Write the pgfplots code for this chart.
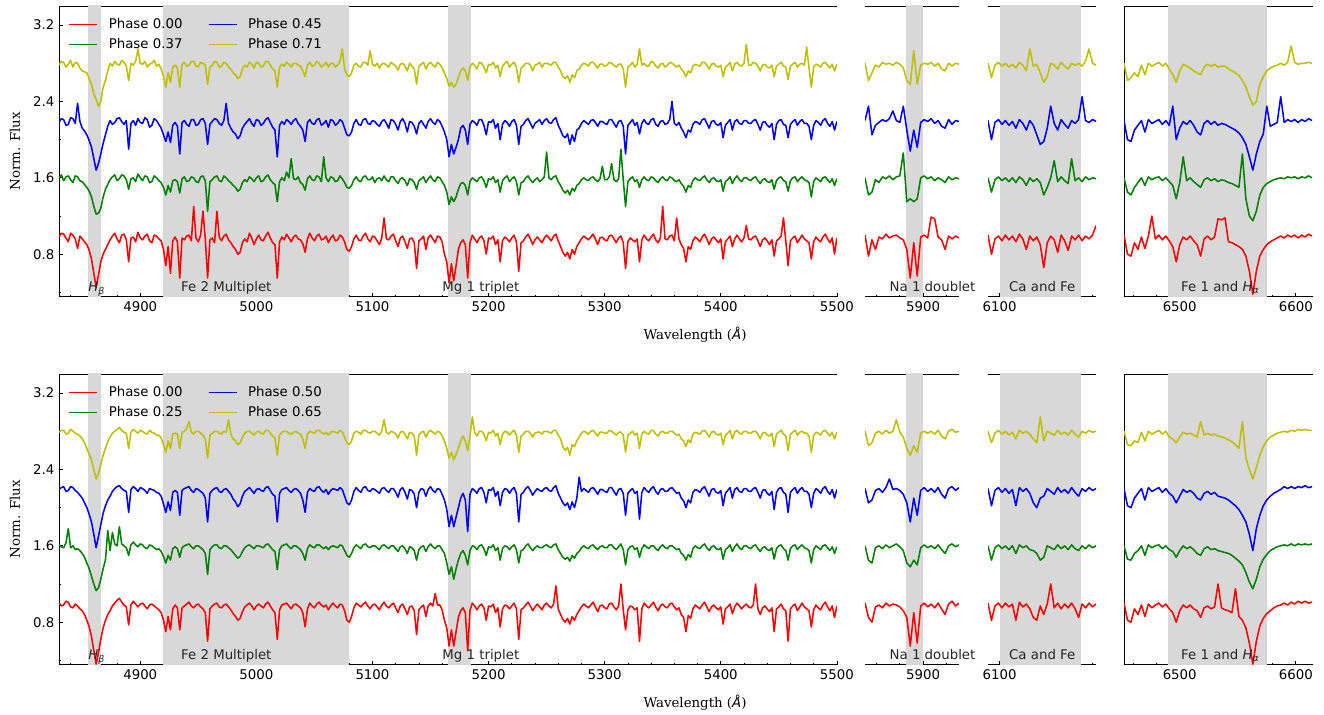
\documentclass[border=0pt]{standalone}
\usepackage{pgfplots}
\usepackage{pgfplotstable}
\pgfplotsset{compat=1.18}
\usepackage{fontspec}
\setmainfont{DejaVu Sans}
\newfontfamily\serif{DejaVu Serif}
\newcommand\fs{\fontsize{10}{12}\selectfont}
\definecolor{cR}{rgb}{1,0,0}
\definecolor{cG}{rgb}{0,0.5,0}
\definecolor{cB}{rgb}{0,0,1}
\definecolor{cY}{rgb}{0.75,0.75,0}
\definecolor{shade}{rgb}{0.847,0.847,0.847}
\definecolor{anncol}{rgb}{0.15,0.15,0.15}

% ---- top row: phases 0.00 (r), 0.37 (g), 0.45 (b), 0.71 (yl)
\pgfplotstableread{
lam r g b yl
4830 0.98 1.60 2.18 2.78
4832 1.02 1.63 2.22 2.82
4834 1.01 1.57 2.21 2.81
4836 0.97 1.61 2.15 2.76
4838 0.93 1.62 2.16 2.79
4840 1.02 1.58 2.23 2.83
4842 1.00 1.55 2.22 2.76
4844 0.96 1.62 2.17 2.81
4846 0.86 1.61 2.38 2.80
4848 0.99 1.57 2.19 2.75
4850 0.96 1.56 2.12 2.72
4852 0.93 1.53 2.09 2.71
4854 0.90 1.50 2.05 2.70
4856 0.84 1.46 1.99 2.64
4858 0.75 1.40 1.92 2.58
4860 0.60 1.30 1.80 2.48
4862 0.45 1.22 1.68 2.42
4864 0.58 1.23 1.75 2.35
4866 0.72 1.28 1.85 2.40
4868 0.80 1.40 1.96 2.55
4870 0.85 1.48 2.05 2.62
4872 0.90 1.53 2.14 2.72
4874 0.95 1.58 2.20 2.80
4876 0.99 1.61 2.16 2.77
4878 1.02 1.63 2.18 2.82
4880 0.96 1.57 2.22 2.79
4882 0.92 1.59 2.23 2.78
4884 1.00 1.63 2.19 2.83
4886 1.01 1.62 2.16 2.81
4888 0.95 1.58 2.20 2.77
4890 0.72 1.48 1.90 2.62
4892 0.97 1.59 2.17 2.80
4894 0.98 1.60 2.20 2.78
4896 0.93 1.56 2.15 2.82
4898 1.03 1.64 2.22 2.95
4900 0.97 1.60 2.18 2.80
4902 0.95 1.57 2.17 2.79
4904 0.99 1.62 2.23 2.82
4906 1.01 1.61 2.21 2.76
4908 0.94 1.55 2.13 2.79
4910 0.92 1.56 2.15 2.80
4912 1.00 1.62 2.22 2.83
4914 0.99 1.60 2.20 2.77
4916 0.96 1.57 2.16 2.79
4918 0.94 1.55 2.12 2.74
4920 0.85 1.50 2.05 2.66
4922 0.68 1.42 1.98 2.55
4924 0.88 1.52 2.08 2.70
4926 0.60 1.45 1.97 2.60
4928 0.94 1.57 2.15 2.76
4930 0.98 1.58 2.18 2.78
4932 0.93 1.56 2.14 2.75
4934 0.55 1.44 1.85 2.55
4936 0.97 1.59 2.18 2.79
4938 0.95 1.61 2.20 2.81
4940 0.99 1.56 2.16 2.77
4942 1.00 1.57 2.14 2.78
4944 0.94 1.61 2.21 2.82
4946 1.30 1.60 2.21 2.82
4948 0.97 1.56 2.15 2.77
4950 0.93 1.55 2.16 2.76
4952 1.00 1.61 2.21 2.81
4954 1.25 1.62 2.22 2.80
4956 0.96 1.57 2.17 2.78
4958 0.55 1.25 1.95 2.58
4960 0.95 1.56 2.16 2.76
4962 0.97 1.58 2.19 2.78
4964 0.92 1.61 2.22 2.82
4966 1.25 1.62 2.21 2.81
4968 0.98 1.57 2.17 2.76
4970 0.94 1.56 2.15 2.77
4972 0.99 1.62 2.20 2.81
4974 1.01 1.60 2.38 2.80
4976 0.95 1.57 2.17 2.76
4978 0.92 1.55 2.12 2.74
4980 0.88 1.52 2.08 2.70
4982 0.85 1.50 2.06 2.68
4984 0.80 1.46 2.01 2.64
4986 0.82 1.48 2.04 2.66
4988 0.92 1.55 2.12 2.74
4990 0.96 1.58 2.16 2.78
4992 0.93 1.56 2.19 2.76
4994 1.02 1.61 2.22 2.81
4996 0.97 1.59 2.17 2.79
4998 0.90 1.56 2.14 2.75
5000 0.96 1.60 2.21 2.81
5002 1.00 1.62 2.20 2.80
5004 0.95 1.56 2.15 2.76
5006 0.94 1.57 2.17 2.77
5008 0.99 1.61 2.21 2.82
5010 1.03 1.63 2.23 2.82
5012 0.97 1.58 2.18 2.78
5014 0.92 1.55 2.13 2.74
5016 0.90 1.53 2.10 2.72
5018 0.55 1.35 1.82 2.55
5020 0.93 1.56 2.15 2.76
5022 0.98 1.60 2.19 2.79
5024 0.95 1.57 2.16 2.77
5026 1.01 1.66 2.21 2.81
5028 0.97 1.60 2.19 2.79
5030 0.93 1.80 2.16 2.76
5032 0.98 1.59 2.20 2.80
5034 1.00 1.58 2.22 2.80
5036 0.96 1.61 2.17 2.78
5038 0.95 1.55 2.14 2.77
5040 0.91 1.53 2.10 2.72
5042 0.82 1.47 1.98 2.66
5044 0.96 1.59 2.18 2.78
5046 1.02 1.62 2.21 2.81
5048 0.97 1.58 2.17 2.77
5050 0.94 1.57 2.16 2.78
5052 0.99 1.62 2.21 2.82
5054 1.01 1.61 2.22 2.80
5056 0.95 1.56 2.15 2.76
5058 0.96 1.82 2.17 2.78
5060 0.99 1.60 2.20 2.81
5062 0.92 1.56 2.13 2.76
5064 0.97 1.61 2.21 2.80
5066 1.00 1.60 2.20 2.80
5068 0.94 1.56 2.15 2.76
5070 0.95 1.57 2.17 2.78
5072 1.00 1.62 2.21 2.82
5074 0.98 1.59 2.19 2.95
5076 0.93 1.55 2.12 2.74
5078 0.85 1.50 2.05 2.68
5080 0.83 1.49 2.04 2.66
5082 0.88 1.52 2.08 2.70
5084 0.96 1.58 2.17 2.78
5086 1.00 1.61 2.21 2.80
5088 0.95 1.57 2.16 2.77
5090 0.94 1.56 2.15 2.76
5092 0.99 1.61 2.21 2.81
5094 1.02 1.62 2.22 2.81
5096 0.96 1.58 2.17 2.78
5098 0.93 1.58 2.16 2.93
5100 0.99 1.61 2.20 2.79
5102 0.98 1.55 2.19 2.77
5104 0.94 1.59 2.16 2.80
5106 0.90 1.60 2.14 2.75
5108 0.97 1.57 2.19 2.79
5110 1.18 1.62 2.21 2.80
5112 0.96 1.58 2.17 2.78
5114 0.95 1.56 2.12 2.76
5116 0.99 1.61 2.21 2.81
5118 1.01 1.61 2.20 2.79
5120 0.94 1.57 2.16 2.77
5122 0.88 1.54 2.10 2.73
5124 0.97 1.59 2.19 2.79
5126 0.99 1.60 2.22 2.80
5128 0.93 1.57 2.17 2.77
5130 0.86 1.52 2.08 2.72
5132 0.96 1.59 2.19 2.80
5134 0.97 1.58 2.18 2.77
5136 0.92 1.55 2.14 2.74
5138 0.65 1.48 2.06 2.58
5140 0.94 1.57 2.17 2.77
5142 0.96 1.59 2.20 2.79
5144 0.99 1.61 2.16 2.81
5146 0.85 1.55 2.12 2.74
5148 0.97 1.59 2.19 2.79
5150 1.00 1.62 2.22 2.81
5152 0.96 1.58 2.18 2.78
5154 0.92 1.56 2.16 2.76
5156 0.99 1.61 2.21 2.81
5158 0.98 1.60 2.19 2.79
5160 0.93 1.56 2.14 2.75
5162 0.80 1.52 2.08 2.70
5164 0.72 1.45 2.00 2.64
5166 0.50 1.32 1.82 2.56
5168 0.70 1.40 1.95 2.60
5170 0.52 1.35 1.85 2.55
5172 0.68 1.40 1.92 2.58
5174 0.85 1.48 2.00 2.65
5176 0.92 1.54 2.12 2.72
5178 0.95 1.55 2.15 2.75
5180 0.90 1.52 2.10 2.72
5182 0.55 1.42 1.95 2.62
5184 0.92 1.56 2.16 2.76
5186 1.00 1.60 2.20 2.80
5188 0.96 1.58 2.18 2.78
5190 0.92 1.56 2.15 2.74
5192 0.97 1.60 2.21 2.81
5194 0.99 1.61 2.21 2.80
5196 0.94 1.57 2.15 2.76
5198 0.80 1.50 2.05 2.70
5200 0.97 1.59 2.19 2.79
5202 0.96 1.58 2.18 2.78
5204 0.99 1.61 2.21 2.81
5206 0.90 1.55 2.12 2.75
5208 0.95 1.58 2.17 2.78
5210 0.72 1.45 2.00 2.66
5212 0.94 1.57 2.16 2.77
5214 0.98 1.60 2.20 2.80
5216 0.96 1.62 2.18 2.82
5218 0.93 1.56 2.14 2.76
5220 0.97 1.59 2.19 2.79
5222 1.00 1.61 2.21 2.81
5224 0.93 1.56 2.15 2.76
5226 0.62 1.42 1.95 2.60
5228 0.92 1.55 2.14 2.75
5230 0.94 1.56 2.16 2.77
5232 0.98 1.60 2.20 2.80
5234 1.01 1.62 2.22 2.80
5236 0.96 1.58 2.17 2.78
5238 0.90 1.55 2.12 2.72
5240 0.95 1.58 2.17 2.78
5242 0.98 1.60 2.19 2.79
5244 0.95 1.56 2.21 2.81
5246 0.92 1.58 2.16 2.76
5248 0.97 1.61 2.20 2.80
5250 1.00 1.87 2.22 2.80
5252 0.97 1.60 2.18 2.79
5254 0.94 1.58 2.17 2.78
5256 0.99 1.61 2.21 2.81
5258 1.01 1.62 2.23 2.81
5260 0.94 1.56 2.15 2.76
5262 0.88 1.52 2.10 2.72
5264 0.82 1.47 2.04 2.66
5266 0.78 1.44 2.02 2.64
5268 0.82 1.47 2.06 2.67
5270 0.75 1.42 1.95 2.60
5272 0.85 1.49 2.05 2.68
5274 0.80 1.46 1.98 2.65
5276 0.88 1.52 2.10 2.72
5278 0.92 1.54 2.12 2.74
5280 0.96 1.58 2.17 2.78
5282 0.99 1.60 2.20 2.80
5284 0.97 1.58 2.18 2.79
5286 0.95 1.57 2.16 2.77
5288 0.98 1.60 2.20 2.81
5290 1.01 1.61 2.21 2.81
5292 0.96 1.58 2.18 2.78
5294 0.90 1.56 2.14 2.75
5296 0.97 1.59 2.19 2.79
5298 0.98 1.72 2.19 2.79
5300 0.95 1.58 2.17 2.77
5302 0.94 1.58 2.16 2.78
5304 0.99 1.61 2.21 2.81
5306 1.00 1.75 2.21 2.80
5308 0.96 1.58 2.17 2.78
5310 0.92 1.56 2.13 2.76
5312 0.97 1.59 2.19 2.79
5314 0.99 1.90 2.20 2.79
5316 0.92 1.58 2.14 2.74
5318 0.65 1.30 1.85 2.55
5320 0.93 1.56 2.15 2.76
5322 0.97 1.59 2.18 2.78
5324 0.95 1.61 2.21 2.81
5326 0.93 1.56 2.15 2.76
5328 0.96 1.58 2.18 2.79
5330 0.72 1.50 2.06 2.95
5332 0.95 1.58 2.17 2.78
5334 1.00 1.61 2.21 2.80
5336 0.96 1.58 2.17 2.77
5338 0.94 1.57 2.16 2.77
5340 0.98 1.61 2.21 2.82
5342 1.01 1.60 2.22 2.81
5344 0.95 1.57 2.16 2.77
5346 0.92 1.55 2.14 2.75
5348 0.97 1.59 2.19 2.79
5350 1.30 1.61 2.20 2.80
5352 0.96 1.58 2.16 2.76
5354 0.95 1.57 2.17 2.78
5356 0.99 1.61 2.21 2.81
5358 1.00 1.60 2.40 2.80
5360 0.94 1.57 2.17 2.78
5362 1.18 1.56 2.15 2.76
5364 0.96 1.58 2.18 2.78
5366 0.90 1.54 2.12 2.74
5368 0.86 1.51 2.08 2.71
5370 0.72 1.45 2.02 2.66
5372 0.88 1.52 2.10 2.72
5374 0.85 1.50 2.08 2.70
5376 0.94 1.57 2.16 2.77
5378 0.98 1.60 2.19 2.79
5380 0.96 1.58 2.18 2.78
5382 0.93 1.57 2.16 2.77
5384 0.98 1.60 2.21 2.81
5386 1.01 1.62 2.22 2.81
5388 0.96 1.58 2.17 2.78
5390 0.90 1.55 2.12 2.74
5392 0.96 1.59 2.19 2.79
5394 0.98 1.60 2.20 2.80
5396 0.95 1.57 2.16 2.77
5398 0.92 1.56 2.15 2.76
5400 0.96 1.58 2.18 2.78
5402 0.75 1.46 2.02 2.66
5404 0.93 1.56 2.15 2.76
5406 0.96 1.58 2.18 2.78
5408 0.99 1.61 2.21 2.81
5410 0.88 1.54 2.10 2.72
5412 0.96 1.59 2.19 2.79
5414 1.00 1.62 2.21 2.81
5416 0.96 1.58 2.17 2.78
5418 0.93 1.56 2.16 2.77
5420 0.97 1.60 2.20 2.80
5422 1.10 1.60 2.20 3.00
5424 0.96 1.58 2.17 2.78
5426 0.95 1.57 2.17 2.78
5428 0.98 1.60 2.20 2.81
5430 0.99 1.61 2.21 2.80
5432 0.94 1.57 2.16 2.77
5434 0.88 1.54 2.10 2.72
5436 0.95 1.58 2.18 2.78
5438 0.97 1.59 2.19 2.79
5440 0.94 1.56 2.15 2.76
5442 0.90 1.55 2.13 2.75
5444 0.95 1.58 2.17 2.78
5446 0.78 1.48 2.00 2.66
5448 0.94 1.57 2.16 2.77
5450 0.96 1.60 2.20 2.79
5452 0.99 1.61 2.21 2.81
5454 1.18 1.57 2.16 2.77
5456 0.94 1.56 2.15 2.76
5458 0.68 1.46 2.02 2.63
5460 0.94 1.57 2.16 2.77
5462 0.97 1.60 2.19 2.79
5464 0.99 1.61 2.21 2.81
5466 0.92 1.56 2.15 2.76
5468 0.96 1.59 2.19 2.79
5470 1.00 1.61 2.21 2.80
5472 0.96 1.58 2.17 2.78
5474 0.94 1.57 2.17 2.97
5476 0.92 1.55 2.14 2.75
5478 0.75 1.40 2.00 2.55
5480 0.93 1.56 2.15 2.76
5482 0.98 1.60 2.20 2.79
5484 0.95 1.58 2.18 2.78
5486 0.93 1.56 2.15 2.76
5488 0.98 1.60 2.20 2.80
5490 1.01 1.61 2.22 2.81
5492 0.96 1.58 2.17 2.78
5494 0.92 1.55 2.14 2.75
5496 0.97 1.59 2.19 2.79
5498 0.80 1.52 2.10 2.72
5500 0.97 1.59 2.19 2.79
}\TopA
\pgfplotstableread{
lam r g b yl
5850 1.00 1.60 2.20 2.80
5853 0.78 1.42 2.35 2.62
5856 0.95 1.45 2.05 2.70
5859 0.85 1.58 2.15 2.78
5862 0.98 1.55 2.18 2.76
5865 0.96 1.61 2.21 2.81
5868 1.01 1.59 2.19 2.79
5871 0.97 1.62 2.22 2.80
5874 0.99 1.58 2.30 2.78
5877 1.00 1.61 2.20 2.81
5880 0.97 1.62 2.18 2.79
5883 0.95 1.86 2.35 2.75
5886 0.85 1.35 2.10 2.62
5889 0.55 1.38 1.88 2.58
5892 0.92 1.35 2.10 2.93
5895 0.57 1.38 1.92 2.58
5898 0.98 1.60 2.18 2.78
5901 1.00 1.62 2.21 2.80
5904 0.97 1.59 2.19 2.79
5907 1.19 1.61 2.22 2.81
5910 1.17 1.57 2.17 2.77
5913 0.98 1.60 2.20 2.80
5916 0.95 1.58 2.14 2.74
5919 0.85 1.55 2.12 2.72
5922 0.99 1.61 2.21 2.80
5925 0.96 1.58 2.16 2.77
5928 0.99 1.60 2.20 2.80
5931 0.97 1.59 2.19 2.79
}\TopB
\pgfplotstableread{
lam r g b yl
6090 1.00 1.60 2.20 2.80
6093 0.80 1.45 2.00 2.65
6096 0.96 1.58 2.18 2.78
6099 0.99 1.61 2.21 2.81
6102 0.94 1.57 2.16 2.77
6105 1.00 1.60 2.20 2.80
6108 0.95 1.56 2.15 2.76
6111 0.99 1.60 2.19 2.79
6114 0.93 1.55 2.12 2.75
6117 1.01 1.61 2.21 2.81
6120 0.96 1.58 2.17 2.78
6123 0.85 1.52 2.10 2.72
6126 0.99 1.60 2.20 2.95
6129 0.94 1.56 2.15 2.77
6132 0.98 1.59 2.05 2.79
6135 0.90 1.55 1.95 2.70
6138 0.66 1.42 1.98 2.60
6141 0.92 1.50 2.12 2.66
6144 0.99 1.60 2.35 2.80
6147 0.95 1.78 2.17 2.78
6150 0.82 1.56 2.10 2.74
6153 1.00 1.61 2.21 2.81
6156 0.94 1.57 2.16 2.77
6159 0.84 1.54 2.12 2.74
6162 0.99 1.80 2.20 2.80
6165 0.95 1.57 2.17 2.78
6168 1.00 1.60 2.21 2.80
6171 0.94 1.56 2.45 2.77
6174 0.99 1.61 2.20 2.82
6177 0.96 1.58 2.18 2.95
6180 1.00 1.60 2.21 2.80
6183 1.10 1.59 2.19 2.78
}\TopC
\pgfplotstableread{
lam r g b yl
6452 1.00 1.60 2.20 2.80
6455 0.80 1.45 2.00 2.62
6458 0.78 1.42 1.98 2.65
6461 0.92 1.50 2.10 2.70
6464 0.85 1.55 2.15 2.66
6467 0.98 1.60 2.20 2.78
6470 0.86 1.52 2.08 2.68
6473 0.99 1.61 2.21 2.80
6476 1.20 1.58 2.17 2.77
6479 0.96 1.60 2.19 2.79
6482 1.00 1.61 2.21 2.81
6485 0.95 1.57 2.16 2.77
6488 0.99 1.60 2.20 2.80
6491 0.94 1.56 2.15 2.74
6494 0.88 1.52 2.35 2.68
6497 0.72 1.38 2.00 2.60
6500 0.90 1.55 2.12 2.72
6503 0.98 1.82 2.19 2.79
6506 0.95 1.57 2.16 2.77
6509 0.99 1.60 2.20 2.75
6512 0.94 1.56 2.15 2.72
6515 0.90 1.53 2.08 2.70
6518 0.78 1.50 2.05 2.68
6521 0.96 1.58 2.17 2.76
6524 0.99 1.60 2.20 2.79
6527 0.95 1.57 2.16 2.77
6530 0.98 1.59 2.19 2.79
6533 1.17 1.56 2.15 2.76
6536 1.16 1.58 2.17 2.77
6539 1.18 1.57 2.16 2.77
6542 0.93 1.55 2.14 2.74
6545 0.92 1.54 2.12 2.72
6548 0.90 1.52 2.10 2.70
6551 0.88 1.50 2.07 2.67
6554 0.85 1.85 2.02 2.62
6557 0.78 1.38 1.95 2.55
6560 0.62 1.20 1.82 2.45
6563 0.38 1.15 1.68 2.36
6566 0.62 1.25 1.85 2.40
6569 0.78 1.42 1.98 2.58
6572 0.85 1.50 2.06 2.66
6575 0.90 1.54 2.35 2.72
6578 0.93 1.56 2.14 2.75
6581 0.95 1.58 2.16 2.77
6584 0.97 1.59 2.18 2.78
6587 0.99 1.60 2.45 2.80
6590 0.97 1.59 2.18 2.78
6593 1.00 1.61 2.21 2.81
6596 0.98 1.60 2.19 2.98
6599 1.00 1.61 2.21 2.81
6602 0.97 1.59 2.18 2.79
6605 1.00 1.61 2.21 2.80
6608 0.98 1.60 2.19 2.80
6611 1.01 1.62 2.22 2.81
6614 0.99 1.60 2.20 2.80
}\TopD

% ---- bottom row: phases 0.00 (r), 0.25 (g), 0.50 (b), 0.65 (yl)
\pgfplotstableread{
lam r g b yl
4830 1.00 1.61 2.19 2.79
4832 0.97 1.59 2.21 2.81
4834 0.98 1.58 2.22 2.81
4836 1.02 1.63 2.17 2.77
4838 1.01 1.78 2.18 2.78
4840 0.96 1.58 2.22 2.82
4842 0.95 1.60 2.21 2.80
4844 0.99 1.56 2.18 2.78
4846 0.97 1.57 2.16 2.77
4848 0.94 1.55 2.13 2.75
4850 0.92 1.52 2.10 2.72
4852 0.88 1.48 2.05 2.68
4854 0.82 1.42 2.00 2.62
4856 0.75 1.36 1.93 2.56
4858 0.65 1.28 1.85 2.50
4860 0.50 1.20 1.72 2.40
4862 0.36 1.13 1.58 2.30
4864 0.48 1.16 1.70 2.36
4866 0.62 1.25 1.82 2.45
4868 0.74 1.36 1.94 2.55
4870 0.82 1.45 2.02 2.62
4872 0.88 1.76 2.08 2.69
4874 0.92 1.55 2.12 2.74
4876 0.97 1.74 2.17 2.78
4878 1.00 1.62 2.20 2.80
4880 1.03 1.60 2.22 2.82
4882 1.05 1.80 2.23 2.84
4884 1.01 1.62 2.20 2.81
4886 0.98 1.60 2.18 2.79
4888 0.96 1.58 2.17 2.78
4890 0.77 1.50 1.95 2.62
4892 0.98 1.61 2.19 2.79
4894 1.02 1.64 2.22 2.82
4896 0.99 1.61 2.20 2.80
4898 0.96 1.59 2.17 2.78
4900 0.99 1.62 2.21 2.81
4902 1.00 1.61 2.20 2.80
4904 0.97 1.58 2.18 2.78
4906 0.94 1.57 2.15 2.77
4908 0.98 1.61 2.20 2.81
4910 0.99 1.60 2.19 2.79
4912 0.97 1.58 2.18 2.78
4914 0.95 1.56 2.16 2.76
4916 0.93 1.57 2.15 2.76
4918 0.90 1.54 2.12 2.73
4920 0.82 1.49 2.04 2.66
4922 0.70 1.42 1.95 2.58
4924 0.86 1.50 2.06 2.70
4926 0.72 1.45 1.97 2.62
4928 0.94 1.57 2.16 2.77
4930 0.98 1.59 2.18 2.78
4932 0.95 1.57 2.16 2.77
4934 0.72 1.48 1.92 2.62
4936 0.95 1.58 2.18 2.79
4938 0.97 1.60 2.20 2.80
4940 0.99 1.61 2.21 2.83
4942 1.01 1.62 2.22 2.90
4944 0.97 1.59 2.18 2.79
4946 0.95 1.57 2.16 2.77
4948 0.98 1.60 2.20 2.80
4950 0.99 1.60 2.19 2.80
4952 0.96 1.58 2.17 2.78
4954 0.94 1.56 2.15 2.76
4956 0.90 1.52 2.10 2.72
4958 0.60 1.30 1.85 2.52
4960 0.94 1.56 2.15 2.76
4962 0.97 1.59 2.18 2.78
4964 0.99 1.61 2.20 2.80
4966 1.00 1.61 2.21 2.80
4968 0.96 1.58 2.17 2.78
4970 0.95 1.57 2.16 2.77
4972 0.98 1.60 2.19 2.80
4974 0.99 1.60 2.20 2.79
4976 0.96 1.58 2.17 2.92
4978 0.93 1.56 2.14 2.77
4980 0.89 1.53 2.09 2.72
4982 0.86 1.50 2.06 2.70
4984 0.82 1.47 2.01 2.66
4986 0.84 1.49 2.04 2.68
4988 0.91 1.54 2.12 2.74
4990 0.96 1.58 2.17 2.78
4992 0.98 1.60 2.19 2.80
4994 1.00 1.61 2.21 2.80
4996 0.97 1.59 2.18 2.78
4998 0.93 1.57 2.15 2.76
5000 0.97 1.60 2.19 2.79
5002 0.99 1.60 2.20 2.80
5004 0.97 1.59 2.18 2.78
5006 0.95 1.58 2.17 2.77
5008 0.99 1.61 2.21 2.81
5010 1.01 1.62 2.22 2.81
5012 0.97 1.59 2.18 2.78
5014 0.93 1.56 2.14 2.75
5016 0.90 1.54 2.12 2.73
5018 0.62 1.35 1.85 2.55
5020 0.93 1.56 2.15 2.76
5022 0.98 1.60 2.19 2.79
5024 0.99 1.61 2.20 2.80
5026 1.00 1.62 2.21 2.80
5028 0.97 1.59 2.18 2.78
5030 0.94 1.57 2.16 2.77
5032 0.98 1.60 2.19 2.79
5034 0.99 1.60 2.20 2.80
5036 0.97 1.58 2.18 2.78
5038 0.95 1.56 2.15 2.77
5040 0.90 1.52 2.08 2.72
5042 0.75 1.45 1.95 2.62
5044 0.94 1.57 2.16 2.77
5046 1.00 1.61 2.20 2.80
5048 0.97 1.59 2.18 2.79
5050 0.95 1.58 2.17 2.78
5052 0.99 1.61 2.21 2.81
5054 1.01 1.61 2.22 2.81
5056 0.98 1.59 2.18 2.79
5058 0.96 1.57 2.16 2.77
5060 0.98 1.59 2.19 2.79
5062 0.93 1.56 2.14 2.76
5064 0.97 1.59 2.18 2.79
5066 1.00 1.60 2.20 2.80
5068 0.97 1.59 2.19 2.79
5070 0.95 1.58 2.18 2.78
5072 0.99 1.61 2.21 2.81
5074 0.98 1.60 2.19 2.79
5076 0.92 1.55 2.12 2.74
5078 0.82 1.50 2.05 2.68
5080 0.80 1.48 2.03 2.66
5082 0.86 1.52 2.08 2.70
5084 0.95 1.58 2.17 2.78
5086 1.00 1.61 2.21 2.80
5088 0.98 1.59 2.18 2.79
5090 0.96 1.57 2.16 2.77
5092 0.99 1.61 2.21 2.81
5094 1.01 1.62 2.22 2.81
5096 0.97 1.59 2.18 2.79
5098 0.94 1.58 2.17 2.78
5100 0.98 1.60 2.20 2.80
5102 0.99 1.60 2.19 2.80
5104 0.96 1.58 2.17 2.78
5106 0.93 1.56 2.15 2.76
5108 0.98 1.60 2.20 2.80
5110 1.01 1.61 2.21 2.92
5112 0.97 1.59 2.18 2.79
5114 0.95 1.57 2.16 2.77
5116 0.98 1.60 2.20 2.80
5118 1.00 1.60 2.20 2.79
5120 0.95 1.57 2.16 2.77
5122 0.90 1.54 2.11 2.73
5124 0.97 1.59 2.19 2.79
5126 0.99 1.60 2.21 2.80
5128 0.94 1.57 2.16 2.77
5130 0.88 1.52 2.09 2.72
5132 0.96 1.59 2.19 2.79
5134 0.97 1.58 2.18 2.78
5136 0.92 1.55 2.14 2.75
5138 0.67 1.45 2.00 2.55
5140 0.93 1.56 2.16 2.76
5142 0.96 1.59 2.20 2.79
5144 0.98 1.60 2.19 2.80
5146 0.86 1.54 2.12 2.74
5148 0.97 1.59 2.19 2.79
5150 1.00 1.62 2.22 2.81
5152 0.97 1.59 2.18 2.79
5154 1.10 1.57 2.16 2.77
5156 0.98 1.60 2.20 2.80
5158 0.98 1.60 2.19 2.79
5160 0.93 1.56 2.14 2.75
5162 0.82 1.52 2.08 2.70
5164 0.74 1.42 1.98 2.62
5166 0.55 1.30 1.80 2.52
5168 0.72 1.38 1.92 2.58
5170 0.55 1.25 1.80 2.50
5172 0.70 1.36 1.90 2.56
5174 0.85 1.45 2.00 2.62
5176 0.92 1.52 2.10 2.70
5178 0.95 1.55 2.15 2.75
5180 0.90 1.50 2.08 2.70
5182 0.50 1.40 1.75 2.60
5184 0.92 1.55 2.14 2.75
5186 1.00 1.60 2.20 2.95
5188 0.97 1.59 2.18 2.79
5190 0.93 1.56 2.15 2.75
5192 0.97 1.60 2.20 2.80
5194 0.99 1.61 2.21 2.80
5196 0.95 1.57 2.16 2.77
5198 0.82 1.50 2.05 2.70
5200 0.97 1.59 2.19 2.79
5202 0.96 1.58 2.18 2.78
5204 0.99 1.61 2.21 2.81
5206 0.90 1.55 2.12 2.75
5208 0.95 1.58 2.17 2.78
5210 0.75 1.45 2.02 2.66
5212 0.94 1.57 2.16 2.77
5214 0.98 1.60 2.20 2.80
5216 0.97 1.59 2.19 2.79
5218 0.94 1.56 2.15 2.76
5220 0.97 1.59 2.19 2.79
5222 1.00 1.61 2.21 2.81
5224 0.94 1.56 2.15 2.76
5226 0.62 1.42 1.85 2.58
5228 0.93 1.55 2.14 2.75
5230 0.95 1.56 2.16 2.77
5232 0.98 1.60 2.20 2.80
5234 1.01 1.62 2.22 2.80
5236 0.97 1.58 2.18 2.78
5238 0.92 1.55 2.13 2.74
5240 0.96 1.58 2.17 2.78
5242 0.99 1.60 2.20 2.79
5244 0.96 1.58 2.18 2.79
5246 0.93 1.58 2.17 2.77
5248 0.98 1.60 2.20 2.80
5250 1.00 1.61 2.21 2.80
5252 0.97 1.59 2.18 2.79
5254 0.95 1.58 2.17 2.78
5256 0.99 1.61 2.21 2.81
5258 1.18 1.62 2.23 2.81
5260 0.94 1.56 2.15 2.76
5262 0.88 1.52 2.10 2.72
5264 0.83 1.48 2.05 2.64
5266 0.80 1.46 2.02 2.60
5268 0.84 1.48 2.05 2.63
5270 0.78 1.44 1.98 2.55
5272 0.86 1.50 2.06 2.66
5274 0.82 1.47 2.00 2.64
5276 0.88 1.52 2.10 2.70
5278 0.92 1.54 2.32 2.74
5280 0.96 1.58 2.17 2.78
5282 0.99 1.60 2.20 2.80
5284 0.97 1.58 2.18 2.79
5286 0.95 1.57 2.16 2.77
5288 0.98 1.60 2.20 2.80
5290 1.01 1.61 2.21 2.81
5292 0.96 1.58 2.18 2.78
5294 0.91 1.56 2.14 2.75
5296 0.97 1.59 2.19 2.79
5298 0.98 1.60 2.19 2.79
5300 0.95 1.58 2.17 2.78
5302 0.94 1.58 2.16 2.78
5304 0.99 1.61 2.21 2.81
5306 1.00 1.61 2.21 2.80
5308 0.96 1.58 2.17 2.78
5310 0.93 1.56 2.13 2.76
5312 0.97 1.59 2.19 2.79
5314 1.20 1.62 2.20 2.79
5316 0.93 1.56 2.15 2.76
5318 0.72 1.40 1.92 2.58
5320 0.93 1.56 2.15 2.76
5322 0.97 1.59 2.18 2.78
5324 0.96 1.60 2.20 2.80
5326 0.93 1.56 2.15 2.76
5328 0.95 1.58 2.17 2.78
5330 0.60 1.48 1.88 2.62
5332 0.94 1.57 2.16 2.77
5334 1.00 1.61 2.21 2.80
5336 0.97 1.59 2.18 2.78
5338 0.95 1.57 2.16 2.77
5340 0.98 1.60 2.20 2.81
5342 1.01 1.60 2.22 2.81
5344 0.96 1.57 2.17 2.77
5346 0.92 1.55 2.14 2.75
5348 0.97 1.59 2.19 2.79
5350 0.99 1.61 2.20 2.80
5352 0.96 1.58 2.17 2.78
5354 0.95 1.57 2.17 2.78
5356 0.99 1.60 2.20 2.80
5358 1.00 1.60 2.21 2.80
5360 0.96 1.58 2.18 2.78
5362 0.93 1.56 2.15 2.76
5364 0.95 1.57 2.16 2.77
5366 0.88 1.52 2.10 2.72
5368 0.85 1.50 2.07 2.70
5370 0.70 1.45 2.00 2.64
5372 0.87 1.51 2.08 2.71
5374 0.84 1.48 2.05 2.68
5376 0.94 1.57 2.16 2.77
5378 0.98 1.60 2.19 2.79
5380 0.96 1.58 2.18 2.78
5382 0.94 1.57 2.16 2.77
5384 0.98 1.60 2.20 2.80
5386 1.01 1.62 2.22 2.81
5388 0.96 1.58 2.17 2.78
5390 0.91 1.55 2.12 2.74
5392 0.96 1.59 2.19 2.79
5394 0.98 1.60 2.20 2.80
5396 0.95 1.57 2.16 2.77
5398 0.93 1.56 2.15 2.76
5400 0.96 1.58 2.18 2.78
5402 0.78 1.46 2.02 2.66
5404 0.94 1.56 2.15 2.76
5406 0.96 1.58 2.18 2.78
5408 0.99 1.61 2.21 2.81
5410 0.89 1.54 2.10 2.72
5412 0.96 1.59 2.19 2.79
5414 1.00 1.62 2.21 2.81
5416 0.97 1.58 2.17 2.78
5418 0.94 1.56 2.16 2.77
5420 0.97 1.60 2.20 2.80
5422 0.99 1.60 2.20 2.80
5424 0.96 1.58 2.17 2.78
5426 0.95 1.57 2.17 2.78
5428 0.98 1.60 2.20 2.80
5430 1.20 1.61 2.21 2.80
5432 0.94 1.57 2.16 2.77
5434 0.88 1.54 2.10 2.72
5436 0.95 1.58 2.18 2.78
5438 0.97 1.59 2.19 2.79
5440 0.94 1.56 2.15 2.76
5442 0.91 1.55 2.13 2.75
5444 0.95 1.58 2.17 2.78
5446 0.70 1.46 1.98 2.64
5448 0.94 1.57 2.16 2.77
5450 0.96 1.60 2.20 2.79
5452 0.99 1.61 2.21 2.81
5454 0.94 1.57 2.16 2.77
5456 0.92 1.55 2.14 2.75
5458 0.60 1.45 1.95 2.60
5460 0.94 1.57 2.16 2.77
5462 0.97 1.60 2.19 2.79
5464 0.99 1.61 2.21 2.81
5466 0.92 1.56 2.15 2.76
5468 0.96 1.59 2.19 2.79
5470 1.00 1.61 2.21 2.80
5472 0.96 1.58 2.17 2.78
5474 0.94 1.57 2.17 2.78
5476 0.92 1.55 2.14 2.75
5478 0.75 1.42 2.00 2.58
5480 0.93 1.56 2.15 2.76
5482 0.98 1.60 2.20 2.79
5484 0.95 1.58 2.18 2.78
5486 0.93 1.56 2.15 2.76
5488 0.98 1.60 2.20 2.80
5490 1.01 1.61 2.22 2.81
5492 0.96 1.58 2.17 2.78
5494 0.92 1.55 2.14 2.75
5496 0.97 1.59 2.19 2.79
5498 0.85 1.52 2.10 2.72
5500 0.97 1.59 2.19 2.79
}\BotA
\pgfplotstableread{
lam r g b yl
5850 1.00 1.60 2.20 2.80
5853 0.85 1.45 2.05 2.65
5856 0.80 1.42 2.08 2.68
5859 0.96 1.58 2.18 2.78
5862 0.98 1.60 2.20 2.80
5865 0.95 1.57 2.16 2.77
5868 1.00 1.61 2.21 2.81
5871 0.97 1.58 2.30 2.78
5874 0.99 1.60 2.19 2.80
5877 0.98 1.62 2.20 2.92
5880 0.96 1.59 2.18 2.79
5883 0.92 1.55 2.14 2.74
5886 0.85 1.42 2.05 2.62
5889 0.55 1.38 1.85 2.55
5892 0.90 1.45 2.10 2.65
5895 0.58 1.40 1.92 2.58
5898 0.97 1.58 2.18 2.78
5901 1.00 1.61 2.21 2.80
5904 0.96 1.58 2.17 2.78
5907 0.99 1.60 2.20 2.80
5910 0.95 1.57 2.16 2.77
5913 1.00 1.61 2.21 2.81
5916 0.94 1.56 2.14 2.75
5919 0.88 1.52 2.10 2.72
5922 0.99 1.60 2.20 2.80
5925 1.02 1.62 2.22 2.82
5928 0.97 1.59 2.18 2.79
5931 1.00 1.61 2.21 2.80
}\BotB
\pgfplotstableread{
lam r g b yl
6090 1.00 1.60 2.20 2.80
6093 0.82 1.45 2.02 2.68
6096 0.97 1.58 2.18 2.78
6099 1.00 1.61 2.21 2.81
6102 0.95 1.57 2.16 2.77
6105 1.00 1.60 2.20 2.80
6108 0.96 1.56 2.15 2.76
6111 0.99 1.60 2.19 2.79
6114 0.82 1.52 2.02 2.72
6117 1.01 1.61 2.21 2.81
6120 0.96 1.58 2.17 2.78
6123 0.99 1.60 2.20 2.80
6126 0.94 1.56 2.15 2.77
6129 0.85 1.55 2.05 2.72
6132 0.82 1.52 2.00 2.68
6135 0.97 1.45 2.10 2.95
6138 0.88 1.48 2.12 2.70
6141 0.99 1.60 2.20 2.80
6144 1.20 1.58 2.17 2.78
6147 0.95 1.56 2.14 2.76
6150 1.00 1.61 2.21 2.81
6153 0.94 1.57 2.16 2.77
6156 0.99 1.60 2.19 2.79
6159 0.95 1.56 2.15 2.76
6162 1.00 1.61 2.21 2.81
6165 0.94 1.57 2.16 2.77
6168 0.85 1.55 2.12 2.74
6171 0.99 1.60 2.20 2.80
6174 0.95 1.57 2.17 2.78
6177 1.00 1.61 2.21 2.81
6180 0.96 1.58 2.18 2.79
6183 0.99 1.60 2.20 2.80
}\BotC
\pgfplotstableread{
lam r g b yl
6452 1.00 1.60 2.20 2.80
6455 0.82 1.46 2.02 2.66
6458 0.80 1.45 2.00 2.65
6461 0.94 1.52 2.10 2.70
6464 0.88 1.55 2.15 2.68
6467 0.98 1.60 2.20 2.79
6470 0.86 1.50 2.08 2.70
6473 0.99 1.61 2.21 2.80
6476 0.95 1.58 2.17 2.77
6479 0.98 1.60 2.19 2.79
6482 1.00 1.61 2.21 2.81
6485 0.96 1.57 2.16 2.77
6488 0.99 1.60 2.20 2.80
6491 0.94 1.56 2.15 2.74
6494 0.90 1.54 2.12 2.72
6497 0.80 1.48 2.05 2.68
6500 0.92 1.55 2.12 2.74
6503 0.98 1.60 2.19 2.79
6506 0.95 1.57 2.16 2.77
6509 0.98 1.59 2.18 2.78
6512 0.94 1.56 2.15 2.76
6515 0.92 1.52 2.10 2.74
6518 0.85 1.50 2.08 2.90
6521 0.95 1.57 2.15 2.76
6524 0.97 1.59 2.17 2.78
6527 0.94 1.56 2.14 2.76
6530 0.96 1.57 2.16 2.77
6533 1.20 1.55 2.12 2.75
6536 0.95 1.54 2.11 2.74
6539 0.93 1.53 2.10 2.73
6542 0.92 1.52 2.08 2.71
6545 0.90 1.50 2.05 2.69
6548 1.15 1.47 2.02 2.66
6551 0.86 1.44 1.98 2.62
6554 0.82 1.40 1.92 2.90
6557 0.74 1.32 1.85 2.52
6560 0.58 1.22 1.72 2.40
6563 0.36 1.15 1.55 2.30
6566 0.60 1.25 1.78 2.42
6569 0.76 1.38 1.92 2.55
6572 0.84 1.46 2.02 2.64
6575 0.89 1.51 2.08 2.70
6578 0.92 1.55 2.12 2.74
6581 0.95 1.57 2.15 2.76
6584 0.97 1.59 2.17 2.78
6587 0.98 1.60 2.19 2.79
6590 1.00 1.61 2.22 2.80
6593 0.98 1.60 2.20 2.79
6596 1.01 1.62 2.22 2.81
6599 0.99 1.60 2.20 2.80
6602 1.02 1.62 2.22 2.82
6605 1.00 1.61 2.21 2.81
6608 1.02 1.62 2.23 2.82
6611 1.00 1.61 2.21 2.81
6614 1.01 1.62 2.22 2.81
}\BotD

\tikzset{ann/.style={anchor=base west, font=\fs, text=anncol, inner sep=0pt}}
\pgfplotsset{
  panel/.style={
    scale only axis, height=218pt, ymin=0.355, ymax=3.4,
    clip mode=individual,
    axis x line*=box,
    axis line style={line width=0.6pt,-},
    every outer x axis line/.append style={-},
    every outer y axis line/.append style={-},
    tick align=inside, xtick pos=left, ytick pos=left,
    major tick length=3pt, minor tick length=1.6pt,
    tick style={black, line width=0.5pt},
    tick label style={font=\fs},
    /pgf/number format/assume math mode=true,
    /pgf/number format/1000 sep={},
    yticklabel style={/pgf/number format/.cd, fixed, fixed zerofill, precision=1},
    every axis plot/.append style={line width=1.15pt, line join=round},
  },
  first/.style={panel, axis y line*=left,
    xmin=4830, xmax=5500, width=583.4pt,
    xtick={4900,5000,...,5500}, minor xtick={4840,4860,...,5480},
    ytick={0.8,1.6,2.4,3.2}, minor ytick={0.4,1.2,2.0,2.8},
    ylabel={Norm. Flux},
    ylabel style={font=\fs\serif, at={(axis description cs:-0.0566,0.5)}, anchor=center},
    legend columns=2, legend cell align=left,
    legend image code/.code={\draw[##1] (0pt,0pt) -- (21pt,0pt);},
    legend style={draw=none, fill=none, font=\fs, at={(axis description cs:0,1)},
      anchor=north west, xshift=4pt, yshift=-5pt, row sep=2pt,
      /tikz/every odd column/.append style={column sep=6pt},
      /tikz/every even column/.append style={column sep=17pt}},
  },
  second/.style={panel, axis y line=none, ytick=\empty,
    xmin=5850, xmax=5931, width=70.5pt, xtick={5900}, minor xtick={5860,5880,5920}},
  third/.style={panel, axis y line=none, ytick=\empty,
    xmin=6090, xmax=6183, width=81pt, xtick={6100}, minor xtick={6120,6140,6160,6180}},
  fourth/.style={panel, axis y line*=right, ytick=\empty,
    xmin=6452, xmax=6615, width=141.9pt, xtick={6500,6600},
    minor xtick={6460,6480,6520,6540,6560,6580}},
}

\begin{document}
\begin{tikzpicture}
\useasboundingbox (0,0) rectangle (993pt,535.5pt);

% ================= top row =================
\begin{axis}[first, at={(44.25pt,531pt)}, anchor=north west]
\addplot[fill=shade, draw=none, forget plot] coordinates {(4855,0) (4855,4) (4866,4) (4866,0)};
\addplot[fill=shade, draw=none, forget plot] coordinates {(4920,0) (4920,4) (5080,4) (5080,0)};
\addplot[fill=shade, draw=none, forget plot] coordinates {(5165,0) (5165,4) (5185,4) (5185,0)};
\addplot[cR] table[x=lam,y=r]{\TopA};
\addplot[cB] table[x=lam,y=b]{\TopA};
\addplot[cG] table[x=lam,y=g]{\TopA};
\addplot[cY] table[x=lam,y=yl]{\TopA};
\legend{Phase 0.00,Phase 0.45,Phase 0.37,Phase 0.71}
\node[ann] at (axis cs:4855,0.405) {\itshape H\textsubscript{β}};
\node[ann] at (axis cs:4935,0.405) {Fe 2 Multiplet};
\node[ann] at (axis cs:5160,0.405) {Mg 1 triplet};
\end{axis}

\begin{axis}[second, at={(648.75pt,531pt)}, anchor=north west]
\addplot[fill=shade, draw=none, forget plot] coordinates {(5885,0) (5885,4) (5900,4) (5900,0)};
\addplot[cR] table[x=lam,y=r]{\TopB};
\addplot[cB] table[x=lam,y=b]{\TopB};
\addplot[cG] table[x=lam,y=g]{\TopB};
\addplot[cY] table[x=lam,y=yl]{\TopB};
\node[ann] at (axis cs:5871,0.405) {Na 1 doublet};
\end{axis}

\begin{axis}[third, at={(741pt,531pt)}, anchor=north west]
\addplot[fill=shade, draw=none, forget plot] coordinates {(6100,0) (6100,4) (6170,4) (6170,0)};
\addplot[cR] table[x=lam,y=r]{\TopC};
\addplot[cB] table[x=lam,y=b]{\TopC};
\addplot[cG] table[x=lam,y=g]{\TopC};
\addplot[cY] table[x=lam,y=yl]{\TopC};
\node[ann] at (axis cs:6108,0.405) {Ca and Fe};
\end{axis}

\begin{axis}[fourth, at={(843pt,531pt)}, anchor=north west]
\addplot[fill=shade, draw=none, forget plot] coordinates {(6490,0) (6490,4) (6575,4) (6575,0)};
\addplot[cR] table[x=lam,y=r]{\TopD};
\addplot[cB] table[x=lam,y=b]{\TopD};
\addplot[cG] table[x=lam,y=g]{\TopD};
\addplot[cY] table[x=lam,y=yl]{\TopD};
\node[ann] at (axis cs:6501,0.405) {Fe 1 and {\itshape H\textsubscript{α}}};
\end{axis}

\node[font=\fs\serif] at (521.25pt,284.25pt) {Wavelength ({\normalfont\itshape Å})};

% ================= bottom row =================
\begin{axis}[first, at={(44.25pt,255pt)}, anchor=north west]
\addplot[fill=shade, draw=none, forget plot] coordinates {(4855,0) (4855,4) (4866,4) (4866,0)};
\addplot[fill=shade, draw=none, forget plot] coordinates {(4920,0) (4920,4) (5080,4) (5080,0)};
\addplot[fill=shade, draw=none, forget plot] coordinates {(5165,0) (5165,4) (5185,4) (5185,0)};
\addplot[cR] table[x=lam,y=r]{\BotA};
\addplot[cB] table[x=lam,y=b]{\BotA};
\addplot[cG] table[x=lam,y=g]{\BotA};
\addplot[cY] table[x=lam,y=yl]{\BotA};
\legend{Phase 0.00,Phase 0.50,Phase 0.25,Phase 0.65}
\node[ann] at (axis cs:4855,0.405) {\itshape H\textsubscript{β}};
\node[ann] at (axis cs:4935,0.405) {Fe 2 Multiplet};
\node[ann] at (axis cs:5160,0.405) {Mg 1 triplet};
\end{axis}

\begin{axis}[second, at={(648.75pt,255pt)}, anchor=north west]
\addplot[fill=shade, draw=none, forget plot] coordinates {(5885,0) (5885,4) (5900,4) (5900,0)};
\addplot[cR] table[x=lam,y=r]{\BotB};
\addplot[cB] table[x=lam,y=b]{\BotB};
\addplot[cG] table[x=lam,y=g]{\BotB};
\addplot[cY] table[x=lam,y=yl]{\BotB};
\node[ann] at (axis cs:5871,0.405) {Na 1 doublet};
\end{axis}

\begin{axis}[third, at={(741pt,255pt)}, anchor=north west]
\addplot[fill=shade, draw=none, forget plot] coordinates {(6100,0) (6100,4) (6170,4) (6170,0)};
\addplot[cR] table[x=lam,y=r]{\BotC};
\addplot[cB] table[x=lam,y=b]{\BotC};
\addplot[cG] table[x=lam,y=g]{\BotC};
\addplot[cY] table[x=lam,y=yl]{\BotC};
\node[ann] at (axis cs:6108,0.405) {Ca and Fe};
\end{axis}

\begin{axis}[fourth, at={(843pt,255pt)}, anchor=north west]
\addplot[fill=shade, draw=none, forget plot] coordinates {(6490,0) (6490,4) (6575,4) (6575,0)};
\addplot[cR] table[x=lam,y=r]{\BotD};
\addplot[cB] table[x=lam,y=b]{\BotD};
\addplot[cG] table[x=lam,y=g]{\BotD};
\addplot[cY] table[x=lam,y=yl]{\BotD};
\node[ann] at (axis cs:6501,0.405) {Fe 1 and {\itshape H\textsubscript{α}}};
\end{axis}

\node[font=\fs\serif] at (521.25pt,8.25pt) {Wavelength ({\normalfont\itshape Å})};
\end{tikzpicture}
\end{document}
